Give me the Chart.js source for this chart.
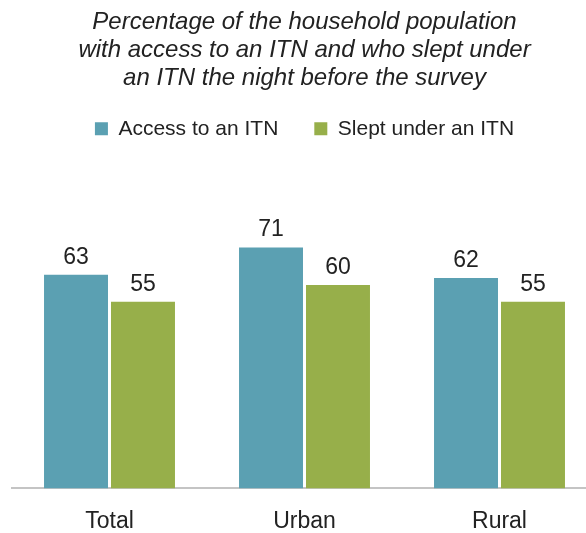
<!DOCTYPE html>
<html>
<head>
<meta charset="utf-8">
<script src="https://cdn.jsdelivr.net/npm/chart.js@4/dist/chart.umd.min.js"></script>
<style>
  html, body { margin: 0; padding: 0; background: #fff; overflow: hidden; }
  #wrap { width: 600px; height: 533px; }
</style>
</head>
<body>
<div id="wrap"><canvas id="chart"></canvas></div>
<script>
const categories = ["Total", "Urban", "Rural"];
const accessValues = [63, 71, 62];
const sleptValues = [55, 60, 55];
const titleLines = [
  "Percentage of the household population",
  "with access to an ITN and who slept under",
  "an ITN the night before the survey"
];

// draws the number above each bar
const valueLabels = {
  id: "valueLabels",
  afterDatasetsDraw(chart) {
    const ctx = chart.ctx;
    ctx.save();
    ctx.font = "23px 'Liberation Sans', Arial, sans-serif";
    ctx.fillStyle = "#222";
    ctx.textAlign = "center";
    ctx.textBaseline = "bottom";
    chart.data.datasets.forEach((ds, i) => {
      chart.getDatasetMeta(i).data.forEach((bar, j) => {
        ctx.fillText(ds.data[j], bar.x, bar.y - 6);
      });
    });
    ctx.restore();
  }
};

new Chart(document.getElementById("chart"), {
  type: "bar",
  data: {
    labels: categories,
    datasets: [
      {
        label: "Access to an ITN",
        data: accessValues,
        backgroundColor: "#5BA0B2",
        categoryPercentage: 0.687,
        barPercentage: 0.955
      },
      {
        label: "Slept under an ITN",
        data: sleptValues,
        backgroundColor: "#97AF4A",
        categoryPercentage: 0.687,
        barPercentage: 0.955
      }
    ]
  },
  options: {
    responsive: true,
    maintainAspectRatio: false,
    animation: false,
    layout: { padding: { left: 12, right: 3, top: 8, bottom: -13 } },
    plugins: {
      title: {
        display: true,
        text: titleLines,
        color: "#222",
        font: { family: "'Liberation Sans', Arial, sans-serif", size: 24, style: "italic", weight: "normal", lineHeight: 1.17 },
        padding: { top: 0, bottom: -10 }
      },
      legend: {
        position: "top",
        labels: {
          color: "#222",
          boxWidth: 13,
          boxHeight: 13,
          padding: 36,
          font: { family: "'Liberation Sans', Arial, sans-serif", size: 21 }
        }
      },
      tooltip: { enabled: false }
    },
    scales: {
      x: {
        grid: { display: false },
        border: { color: "#c4c4c4", width: 2 },
        ticks: {
          color: "#222",
          padding: 11,
          font: { family: "'Liberation Sans', Arial, sans-serif", size: 23 }
        }
      },
      y: {
        display: false,
        min: 0,
        max: 100
      }
    }
  },
  plugins: [valueLabels]
});
</script>
</body>
</html>
